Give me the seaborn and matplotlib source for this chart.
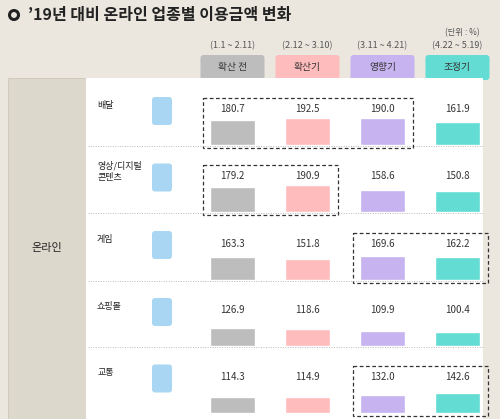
import matplotlib
matplotlib.use("Agg")
import matplotlib.pyplot as plt
import seaborn as sns
import pandas as pd
from matplotlib.patches import Rectangle, FancyBboxPatch

sns.set_theme(style="white")
plt.rcParams['font.family'] = ['Noto Sans CJK KR', 'DejaVu Sans']

periods = ["확산 전", "확산기", "영향기", "조정기"]
ranges = ["(1.1 ~ 2.11)", "(2.12 ~ 3.10)", "(3.11 ~ 4.21)", "(4.22 ~ 5.19)"]
colors = ["#bdbdbd", "#ffbcbc", "#c6b3ef", "#63dcd3"]
sectors = ["배달", "영상/디지털\n콘텐츠", "게임", "쇼핑몰", "교통"]
v_delivery = [180.7, 192.5, 190.0, 161.9]
v_video = [179.2, 190.9, 158.6, 150.8]
v_game = [163.3, 151.8, 169.6, 162.2]
v_shop = [126.9, 118.6, 109.9, 100.4]
v_transport = [114.3, 114.9, 132.0, 142.6]
values = [v_delivery, v_video, v_game, v_shop, v_transport]
highlight = [(0, 2), (0, 1), (2, 3), None, (2, 3)]

W, H = 500, 419
fig = plt.figure(figsize=(5, 4.19), dpi=100, facecolor="#ebe7df")
bg = fig.add_axes([0, 0, 1, 1])
bg.set_xlim(0, W); bg.set_ylim(H, 0); bg.axis("off")

bg.add_patch(plt.Circle((14, 15), 4.5, fill=False, lw=2.2, color="#222"))
bg.text(28, 15, "’19년 대비 온라인 업종별 이용금액 변화", fontsize=11.5, fontweight="bold", va="center", color="#222")
bg.text(480, 33, "(단위 : %)", fontsize=6, ha="right", va="center", color="#555")

centers = [232.5, 307.5, 382.5, 457.5]
for c, p, r, col in zip(centers, periods, ranges, colors):
    bg.text(c, 46, r, fontsize=6.5, ha="center", va="center", color="#555")
    bg.add_patch(FancyBboxPatch((c - 32, 55), 64, 25, boxstyle="round,pad=0,rounding_size=3", fc=col, ec="none"))
    bg.text(c, 67, p, fontsize=7, ha="center", va="center", color="#333")

bg.add_patch(Rectangle((8, 78), 78, 341, fc="#ddd8cc", ec="#c8c2b5", lw=0.5))
bg.add_patch(Rectangle((86, 78), 397, 341, fc="white", ec="none"))
bg.text(47, 248, "온라인", fontsize=8, ha="center", va="center", color="#222")

row_bottoms = [146, 213, 281, 347, 414]
row_tops = [80, 146, 213, 281, 347]
for i, (s, vals, hl) in enumerate(zip(sectors, values, highlight)):
    top, bot = row_tops[i], row_bottoms[i]
    mid = (top + bot) / 2
    bg.text(97, mid - 8, s, fontsize=6.5, va="center", color="#222", linespacing=1.3)
    bg.add_patch(FancyBboxPatch((152, mid - 16), 20, 28, boxstyle="round,pad=0,rounding_size=3", fc="#a9d6f2", ec="none"))
    if i < 4:
        bg.plot([88, 483], [bot, bot], ls=(0, (1, 1.5)), color="#bbb", lw=0.7)
    df = pd.DataFrame({"period": periods, "value": vals})
    ax = fig.add_axes([195 / W, 1 - (bot - 1) / H, 300 / W, 42 / H])
    sns.barplot(data=df, x="period", y="value", hue="period", palette=colors, width=0.6,
                legend=False, ax=ax, saturation=1)
    ax.set_ylim(0, 300)
    ax.axis("off")
    for j, v in enumerate(vals):
        bg.text(centers[j], bot - 37, f"{v:.1f}", fontsize=7, ha="center", va="center", color="#333")
    if hl:
        a, b = hl
        x0 = centers[a] - 30; x1 = centers[b] + 30
        bg.add_patch(Rectangle((x0, bot - 48), x1 - x0, 50, fill=False, ec="#333", lw=0.9, ls=(0, (3, 2))))

fig.savefig("out.png", dpi=100, facecolor=fig.get_facecolor())
